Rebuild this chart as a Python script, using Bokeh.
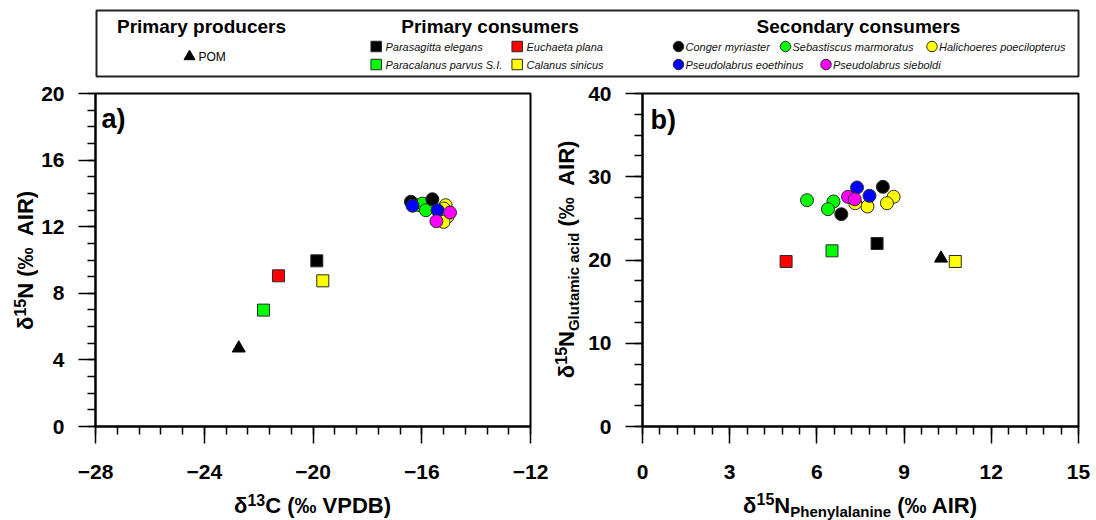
import math
from bokeh.plotting import figure
from bokeh.models import Range1d, SingleIntervalTicker, Label
from bokeh.layouts import column, row
from bokeh.embed import file_html
from bokeh.resources import INLINE
from bokeh.core.properties import value

FONT = "Liberation Sans"

# ---------------- data ----------------
group_titles = ["Primary producers", "Primary consumers", "Secondary consumers"]

producer_name = "POM"
pom_d13c = [-22.73]
pom_d15n = [4.70]
pom_phe = [10.27]
pom_glu = [20.20]

primary_names = ["Parasagitta elegans", "Euchaeta plana", "Paracalanus parvus S.I.", "Calanus sinicus"]
primary_colors = ["#000000", "#ff0000", "#00ff00", "#ffff00"]
primary_d13c = [-19.86, -21.27, -21.82, -19.64]
primary_d15n = [9.95, 9.05, 6.99, 8.75]
primary_phe = [8.07, 4.94, 6.52, 10.76]
primary_glu = [21.98, 19.82, 21.10, 19.82]

secondary_names = ["Conger myriaster", "Sebastiscus marmoratus", "Halichoeres poecilopterus",
                   "Pseudolabrus eoethinus", "Pseudolabrus sieboldi"]
secondary_colors = ["#000000", "#00ff00", "#ffff00", "#0000ff", "#ff00ff"]

conger_d13c = [-16.40, -15.61]
conger_d15n = [13.50, 13.65]
conger_phe = [6.84, 8.27]
conger_glu = [25.50, 28.79]

sebastiscus_d13c = [-16.10, -15.97, -15.85]
sebastiscus_d15n = [13.30, 13.39, 12.99]
sebastiscus_phe = [5.66, 6.57, 6.38]
sebastiscus_glu = [27.18, 27.03, 26.10]

halichoeres_d13c = [-15.12, -15.19, -15.05, -15.20]
halichoeres_d15n = [13.29, 13.09, 12.61, 12.29]
halichoeres_phe = [8.64, 8.41, 7.74, 7.32]
halichoeres_glu = [27.59, 26.82, 26.43, 26.82]

eoethinus_d13c = [-16.34, -15.42]
eoethinus_d15n = [13.26, 12.99]
eoethinus_phe = [7.38, 7.81]
eoethinus_glu = [28.71, 27.71]

sieboldi_d13c = [-14.96, -15.46]
sieboldi_d15n = [12.85, 12.33]
sieboldi_phe = [7.07, 7.30]
sieboldi_glu = [27.59, 27.30]

secondary_a = [(conger_d13c, conger_d15n), (sebastiscus_d13c, sebastiscus_d15n),
               (halichoeres_d13c, halichoeres_d15n), (eoethinus_d13c, eoethinus_d15n),
               (sieboldi_d13c, sieboldi_d15n)]
secondary_b = [(conger_phe, conger_glu), (sebastiscus_phe, sebastiscus_glu),
               (halichoeres_phe, halichoeres_glu), (eoethinus_phe, eoethinus_glu),
               (sieboldi_phe, sieboldi_glu)]
draw_order = [1, 0, 2, 3, 4]

# ---------------- text metrics (Arial/Liberation Sans Bold, per 1000 em) ----------------
CW = {'δ': 611, '0': 556, '1': 556, '2': 556, '3': 556, '4': 556, '5': 556, '6': 556, '7': 556,
      '8': 556, '9': 556, 'N': 722, 'C': 722, ' ': 278, '\u00a0': 278, '(': 333, ')': 333,
      '‰': 1000, 'A': 722, 'I': 278, 'R': 722, 'V': 667, 'P': 667, 'D': 722, 'B': 722, 'G': 778,
      'l': 278, 'u': 611, 't': 333, 'a': 556, 'm': 889, 'i': 278, 'c': 556, 'd': 611, 'h': 611,
      'e': 556, 'n': 611, 'y': 556}


def text_w(s, size):
    return sum(CW.get(c, 600) for c in s) / 1000.0 * size


LINE = "#2a2a2a"
ROW_TOP, ROW_BOT = 80, 488
ROW_H = ROW_BOT - ROW_TOP
BORDER_T, BORDER_B = 13, 62          # plots in one row share their frame rows
FRAME_T, FRAME_B = ROW_TOP + BORDER_T, ROW_BOT - BORDER_B
MID = 0.35  # distance from baseline to the "middle" anchor, in em


def blank_fig(x0, x1, y0, y1, bt=0, bb=0):
    """Figure whose data coordinates are page pixels (y stored as -page_y)."""
    f = figure(width=int(x1 - x0), height=int(y1 - y0), x_range=Range1d(x0, x1),
               y_range=Range1d(-(y1 - bb), -(y0 + bt)), output_backend="svg",
               toolbar_location=None, x_axis_type=None, y_axis_type=None,
               min_border_left=0, min_border_right=0, min_border_top=bt, min_border_bottom=bb)
    f.xgrid.visible = False
    f.ygrid.visible = False
    f.outline_line_color = None
    f.background_fill_color = "white"
    f.border_fill_color = "white"
    return f


def make_panel(width, xr, yr, xstep, ystep, border_l, border_r, page_left):
    p = figure(width=width, height=ROW_H, x_range=Range1d(*xr), y_range=Range1d(*yr),
               output_backend="svg", toolbar_location=None,
               min_border_left=border_l, min_border_right=border_r,
               min_border_top=BORDER_T, min_border_bottom=BORDER_B)
    p.xaxis.ticker = SingleIntervalTicker(interval=xstep, num_minor_ticks=5)
    p.yaxis.ticker = SingleIntervalTicker(interval=ystep, num_minor_ticks=4)
    p.xgrid.visible = False
    p.ygrid.visible = False
    for ax in (p.xaxis[0], p.yaxis[0]):
        ax.axis_line_width = 2
        ax.axis_line_color = "black"
        ax.major_tick_line_width = 1.5
        ax.minor_tick_line_width = 1.5
        ax.major_tick_line_color = "black"
        ax.minor_tick_line_color = "black"
        ax.major_tick_in = 0
        ax.major_tick_out = 17
        ax.minor_tick_in = 0
        ax.minor_tick_out = 8
        ax.major_label_text_font = FONT
        ax.major_label_text_font_style = "bold"
        ax.major_label_text_font_size = "21px"
        ax.major_label_text_color = "black"
    p.xaxis.major_label_standoff = 21
    p.yaxis.major_label_standoff = 14
    p.outline_line_color = "black"
    p.outline_line_width = 2
    p.outline_line_alpha = 1
    p.background_fill_color = "white"
    p.border_fill_color = "white"
    fl = page_left + border_l
    fr = page_left + width - border_r

    def conv(px, py):
        x = xr[0] + (px - fl) / (fr - fl) * (xr[1] - xr[0])
        y = yr[0] + (FRAME_B - py) / (FRAME_B - FRAME_T) * (yr[1] - yr[0])
        return x, y
    return p, conv, (fl, fr, FRAME_T, FRAME_B)


def rich_text(f, pieces, center, base, vertical=False):
    """pieces: (text, font px, baseline raise px); base = page baseline of the main text."""
    total = sum(text_w(t, s) for t, s, _ in pieces)
    pos = center + total / 2 if vertical else center - total / 2
    for txt, size, shift in pieces:
        lead = len(txt) - len(txt.lstrip(" "))
        adv = text_w(" " * lead, size)
        pos = pos - adv if vertical else pos + adv
        body = txt.lstrip(" ")
        w = text_w(body, size)
        mid = base - shift - MID * size
        if vertical:
            f.text(x=[mid], y=[-pos], text=[body], angle=math.pi / 2,
                   text_font=value(FONT), text_font_size=f"{size}px", text_font_style="bold",
                   text_color="black", text_align="left", text_baseline="middle")
            pos -= w
        else:
            f.text(x=[pos], y=[-mid], text=[body], text_font=value(FONT),
                   text_font_size=f"{size}px", text_font_style="bold", text_color="black",
                   text_align="left", text_baseline="middle")
            pos += w


def draw_data(p, prod, prim, sec):
    p.scatter(x=prod[0], y=prod[1], marker="triangle", size=13, fill_color="black",
              line_color="black", line_width=1)
    for i in range(len(primary_names)):
        p.scatter(x=[prim[0][i]], y=[prim[1][i]], marker="square", size=12,
                  fill_color=primary_colors[i], line_color=LINE, line_width=1)
    for i in draw_order:
        xs, ys = sec[i]
        p.scatter(x=xs, y=ys, marker="circle", size=13, fill_color=secondary_colors[i],
                  line_color=LINE, line_width=1)


# ---------------- panel a ----------------
PA_LEFT, PA_RIGHT = 38, 553
pa, conv_a, fa = make_panel(PA_RIGHT - PA_LEFT, (-28, -12), (0, 20), 4, 4, 56, 23, PA_LEFT)
draw_data(pa, (pom_d13c, pom_d15n), (primary_d13c, primary_d15n), secondary_a)
lx, ly = conv_a(100, FRAME_T + 25.5)
pa.add_layout(Label(x=lx, y=ly, text="a)", text_font=FONT, text_font_size="27px",
                    text_font_style="bold", text_color="black", text_baseline="middle"))

# ---------------- panel b ----------------
PB_LEFT, PB_RIGHT = 585, 1096
pb, conv_b, fb_ = make_panel(PB_RIGHT - PB_LEFT, (0, 15), (0, 40), 3, 10, 57, 18, PB_LEFT)
draw_data(pb, (pom_phe, pom_glu), (primary_phe, primary_glu), secondary_b)
lx, ly = conv_b(650, FRAME_T + 26)
pb.add_layout(Label(x=lx, y=ly, text="b)", text_font=FONT, text_font_size="27px",
                    text_font_style="bold", text_color="black", text_baseline="middle"))

# ---------------- axis titles (own strips, page coordinates) ----------------
ylab_a = blank_fig(0, PA_LEFT, ROW_TOP, ROW_BOT, BORDER_T, BORDER_B)
rich_text(ylab_a, [("δ", 22, 0), ("15", 16, 8), ("N (‰\u00a0 AIR)", 22, 0)], 259.5, 33, vertical=True)

ylab_b = blank_fig(PA_RIGHT, PB_LEFT, ROW_TOP, ROW_BOT, BORDER_T, BORDER_B)
rich_text(ylab_b, [("δ", 22, 0), ("15", 16, 8), ("N", 22, 0), ("Glutamic acid", 15, -4.5),
                   (" (‰\u00a0 AIR)", 22, 0)], 258.5, 574, vertical=True)

xlab = blank_fig(0, 1096, ROW_BOT, 520)
rich_text(xlab, [("δ", 22, 0), ("13", 16, 8), ("C (‰ VPDB)", 22, 0)], (fa[0] + fa[1]) / 2, 513)
rich_text(xlab, [("δ", 22, 0), ("15", 16, 8), ("N", 22, 0), ("Phenylalanine", 15, -3.5),
                 (" (‰ AIR)", 22, 0)], (fb_[0] + fb_[1]) / 2, 512.5)

# ---------------- legend (page coordinates) ----------------
leg = blank_fig(0, 1096, 0, ROW_TOP)
leg.quad(left=[96], right=[1078], top=[-10], bottom=[-76], fill_color=None,
         line_color="#222222", line_width=2)

title_x = [201, 489.5, 858]
title_y = [25.5, 25.5, 25.5]
leg.text(x=title_x, y=[-v for v in title_y], text=group_titles, text_font=value(FONT),
         text_font_style="bold", text_font_size="19px", text_align="center",
         text_baseline="middle", text_color="black")

leg.scatter(x=[189], y=[-56], marker="triangle", size=11, fill_color="black", line_color="black")
leg.text(x=[198], y=[-56], text=[producer_name], text_font=value(FONT), text_font_size="12px",
         text_align="left", text_baseline="middle", text_color="black")

prim_leg_x = [375.7, 516.7, 375.7, 516.7]
prim_leg_y = [46, 46, 64, 64]
leg.scatter(x=prim_leg_x, y=[-v for v in prim_leg_y], marker="square", size=10.5,
            fill_color=primary_colors, line_color=LINE, line_width=1)
leg.text(x=[v + 9.3 for v in prim_leg_x], y=[-v for v in prim_leg_y], text=primary_names,
         text_font=value(FONT), text_font_style="italic", text_font_size="11px",
         text_align="left", text_baseline="middle", text_color="#111111")

sec_leg_x = [678, 785, 931.5, 678, 825.5]
sec_leg_y = [46, 46, 46, 64, 64]
leg.scatter(x=sec_leg_x, y=[-v for v in sec_leg_y], marker="circle", size=10.5,
            fill_color=secondary_colors, line_color=LINE, line_width=1)
leg.text(x=[v + 7 for v in sec_leg_x], y=[-v for v in sec_leg_y], text=secondary_names,
         text_font=value(FONT), text_font_style="italic", text_font_size="11px",
         text_align="left", text_baseline="middle", text_color="#111111")

layout = column(leg, row(ylab_a, pa, ylab_b, pb), xlab)
open("out.html", "w").write(file_html(layout, INLINE))
